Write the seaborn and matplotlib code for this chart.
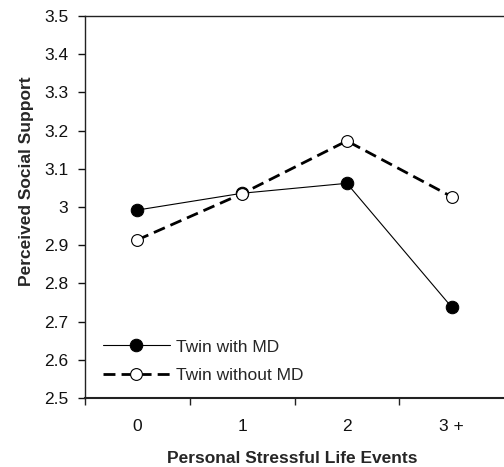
import numpy as np
import pandas as pd
import matplotlib
matplotlib.use('Agg')
import matplotlib.pyplot as plt
import seaborn as sns

events = ['0', '1', '2', '3 +']
with_md = [2.992, 3.036, 3.062, 2.738]
without_md = [2.914, 3.035, 3.173, 3.027]
yticks = [2.5, 2.6, 2.7, 2.8, 2.9, 3.0, 3.1, 3.2, 3.3, 3.4, 3.5]

df = pd.DataFrame({'events': events * 2,
                   'support': with_md + without_md,
                   'group': ['Twin with MD'] * 4 + ['Twin without MD'] * 4})

sns.set_style('white')
plt.rcParams['font.family'] = ['Liberation Sans', 'DejaVu Sans']
fs = 12.5

fig = plt.figure(figsize=(5.04, 4.67), dpi=100)
ax = fig.add_axes([85 / 504, 1 - 398 / 467, 1 - 85 / 504, (398 - 16) / 467])

sns.lineplot(data=df[df.group == 'Twin with MD'], x='events', y='support', ax=ax,
             color='black', linewidth=0.8, marker='o', markersize=9,
             markerfacecolor='black', markeredgecolor='black', label='Twin with MD', sort=False)
sns.lineplot(data=df[df.group == 'Twin without MD'], x='events', y='support', ax=ax,
             color='black', linewidth=2.0, linestyle=(0, (4.3, 2.2)), marker='o', markersize=8.5,
             markerfacecolor='white', markeredgecolor='black', markeredgewidth=0.8,
             label='Twin without MD', sort=False)

ax.set_xlim(-0.5, 3.5)
ax.set_ylim(2.5, 3.5)
ax.set_yticks(yticks)
ax.set_yticklabels([f'{v:g}' for v in yticks])
ax.set_xticks(range(4))
ax.set_xticklabels(events)
ax.set_xticks([-0.5, 0.5, 1.5, 2.5], minor=True)
ax.tick_params(axis='x', which='major', length=0, pad=15, labelsize=fs, colors='#111')
ax.tick_params(axis='x', which='minor', length=5, width=1, direction='out', bottom=True, color='#222')
ax.tick_params(axis='y', length=5, width=1, direction='out', left=True, pad=7, labelsize=fs, colors='#111')

for s in ['left', 'bottom', 'top']:
    ax.spines[s].set_visible(True)
    ax.spines[s].set_color('#222')
    ax.spines[s].set_linewidth(1.0)
ax.spines['bottom'].set_linewidth(1.5)
ax.spines['right'].set_visible(False)

ax.set_xlabel('Personal Stressful Life Events', fontsize=fs, fontweight='bold')
ax.set_ylabel('Perceived Social Support', fontsize=fs, fontweight='bold')
ax.xaxis.set_label_coords(0.494, -0.138)
ax.yaxis.set_label_coords(-0.121, 0.568)

ax.legend(loc='lower left', bbox_to_anchor=(0.043, 0.04), frameon=False, borderpad=0,
          borderaxespad=0, handlelength=3.85, handletextpad=0.35, labelspacing=0.75,
          fontsize=fs)

fig.savefig('out.png', dpi=100)
